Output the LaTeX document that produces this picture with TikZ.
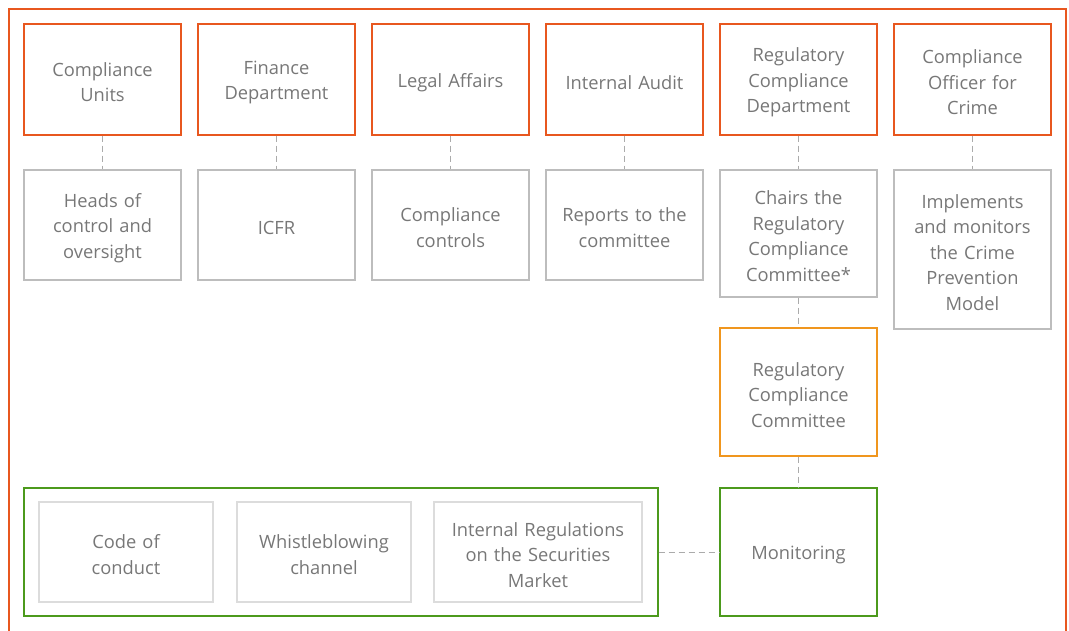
\documentclass[tikz,border=0pt]{standalone}
\usepackage{fontspec}
\setmainfont{Open Sans}
\usetikzlibrary{positioning}
\definecolor{unitorange}{HTML}{E8571F}
\definecolor{comorange}{HTML}{F0961E}
\definecolor{mongreen}{HTML}{4C9A1C}
\definecolor{boxgray}{HTML}{BDBDBD}
\definecolor{lightgray}{HTML}{DCDCDC}
\definecolor{textgray}{HTML}{777777}
\definecolor{linkgray}{HTML}{ABABAB}

\begin{document}
\begin{tikzpicture}[x=1pt,y=-1pt,
	unit/.style={rectangle, draw=unitorange, line width=1.4pt, minimum width=157pt,
		minimum height=111pt, text width=154pt, align=center, text=textgray,
		font=\fontsize{18.3}{25.5}\selectfont, inner sep=0pt,
		execute at begin node={\rule{0pt}{19.5pt}}},
	task/.style={unit, draw=boxgray, minimum height=110pt},
	committee/.style={unit, draw=comorange, minimum height=128pt},
	monitor/.style={unit, draw=mongreen, minimum height=128pt},
	tool/.style={unit, draw=lightgray, minimum height=100pt, minimum width=174pt},
	link/.style={draw=linkgray, line width=1pt, dash pattern=on 6pt off 4pt}
	]
	\useasboundingbox (0,0) rectangle (1069,630);
	\draw[unitorange, line width=1.4pt] (9,640) -- (9,9) -- (1066,9) -- (1066,640);

	% top row
	\node (cu) [unit] at (102.5,79.5) {Compliance\\Units};
	\node (fd) [unit] at (276.5,79.5) {Finance\\Department};
	\node (la) [unit] at (450.5,79.5) {Legal Affairs};
	\node (ia) [unit] at (624.5,79.5) {Internal Audit};
	\node (rcd) [unit] at (798.5,79.5) {Regulatory\\Compliance\\Department};
	\node (coc) [unit] at (972.5,79.5) {Compliance\\Officer for\\Crime};

	% second row
	\node (cu1) [task] at (102.5,225) {Heads of\\control and\\oversight};
	\node (fd1) [task] at (276.5,225) {ICFR};
	\node (la1) [task] at (450.5,225) {Compliance\\controls};
	\node (ia1) [task] at (624.5,225) {Reports to the\\committee};
	\node (rcd1) [task, minimum height=127pt] at (798.5,233.5) {Chairs the\\Regulatory\\Compliance\\Committee*};
	\node (coc1) [task, minimum height=159pt] at (972.5,249.5) {Implements\\and monitors\\the Crime\\Prevention\\Model};

	\node (rcc) [committee] at (798.5,392) {Regulatory\\Compliance\\Committee};
	\node (mon) [monitor] at (798.5,552) {Monitoring};

	% tools
	\node (tools) [monitor, minimum width=634pt] at (341,552) {};
	\node (code) [tool] at (126,552) {Code of\\conduct};
	\node (wb) [tool] at (324,552) {Whistleblowing\\channel};
	\node (irs) [tool, minimum width=208pt, text width=204pt] at (538,552) {Internal Regulations\\on the Securities\\Market};

	\foreach \a in {cu,fd,la,ia,rcd,coc}
		\draw[link] (\a.south) -- (\a1.north);
	\draw[link] (rcd1.south) -- (rcc.north);
	\draw[link] (rcc.south) -- (mon.north);
	\draw[link] (tools.east) -- (mon.west);
\end{tikzpicture}
\end{document}
